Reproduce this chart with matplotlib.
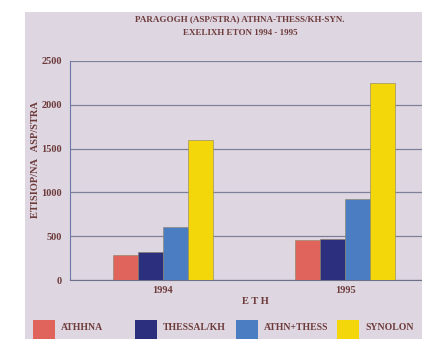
import numpy as np
import matplotlib
matplotlib.use("Agg")
import matplotlib.pyplot as plt
from matplotlib.patches import Rectangle

# data
years = ["1994", "1995"]
series = ["ATHHNA", "THESSAL/KH", "ATHN+THESS", "SYNOLON"]
athhna = [280, 460]
thessal = [320, 465]
athn_thess = [600, 930]
synolon = [1600, 2250]
colors = ["#e0645c", "#2b2f7e", "#4a7dc2", "#f4d70a"]

txt = "#6e3b3b"
bg = "#ded7e2"
plt.rcParams["font.family"] = ["Liberation Serif", "DejaVu Serif"]

fig = plt.figure(figsize=(4.22, 3.39), dpi=100)
fig.patch.set_facecolor("white")
# scanned page background
fig.add_artist(Rectangle((25/422, 0), 1, 1 - 12/339, transform=fig.transFigure,
                         facecolor=bg, edgecolor="none", zorder=0))

ax = fig.add_axes([70/422, 1 - 280/339, 1 - 70/422, (280 - 61)/339])
ax.set_facecolor(bg)

x = np.arange(len(years))
w = 0.137
vals = [athhna, thessal, athn_thess, synolon]
for i, v in enumerate(vals):
    ax.bar(x + (i - 1.5) * w, v, w, color=colors[i], edgecolor="#8a8060",
           linewidth=0.4, zorder=3)

ax.set_ylim(0, 2500)
ax.set_xlim(-0.511, 1.423)
ax.set_yticks(np.arange(0, 2501, 500))
ax.yaxis.grid(True, color="#7c8098", linewidth=0.9)
ax.set_axisbelow(True)
for s in ["top", "right"]:
    ax.spines[s].set_visible(False)
ax.spines["left"].set_color("#6c78a8")
ax.spines["bottom"].set_color("#6c7088")
ax.tick_params(axis="y", length=0, pad=6, labelsize=7.5, labelcolor=txt)
ax.tick_params(axis="x", length=0, pad=4, labelsize=7.5, labelcolor=txt)
ax.set_xticks(x)
ax.set_xticklabels(years)
for lab in ax.get_yticklabels() + ax.get_xticklabels():
    lab.set_fontweight("bold")

fig.text(35/422, 1 - 160/339, "ETISIOP/NA   ASP/STRA", rotation=90, ha="center",
         va="center", fontsize=7.5, color=txt, fontweight="bold")
fig.text(255/422, 1 - 302/339, "E T H", ha="center", va="center", fontsize=7.5,
         color=txt, fontweight="bold")
fig.text(240/422, 1 - 19/339, "PARAGOGH (ASP/STRA) ATHNA-THESS/KH-SYN.",
         ha="center", va="center", fontsize=6.5, color=txt, fontweight="bold")
fig.text(240/422, 1 - 33/339, "EXELIXH ETON 1994 - 1995",
         ha="center", va="center", fontsize=6.5, color=txt, fontweight="bold")

# legend along the bottom
lx = [33, 135, 236, 337]
for i, name in enumerate(series):
    fig.add_artist(Rectangle((lx[i]/422, 0), 22/422, 19/339, transform=fig.transFigure,
                             facecolor=colors[i], edgecolor="none"))
    fig.text((lx[i] + 28)/422, 1 - 328/339, name, ha="left", va="center",
             fontsize=7, color=txt, fontweight="bold")

fig.savefig("out.png", dpi=100)
